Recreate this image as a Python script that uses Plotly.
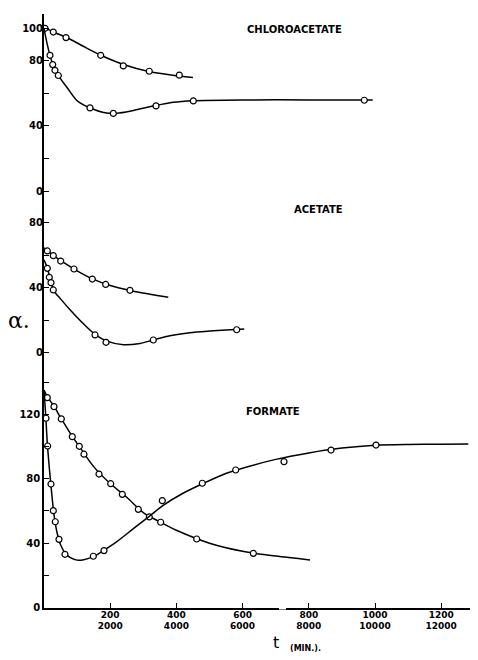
import plotly.graph_objects as go

# ---------------- data (t in minutes, alpha) ----------------
# Chloroacetate
chl_up_pts_t = [30, 281, 665, 1713, 2396, 3181, 4088]
chl_up_pts_a = [100, 97.7, 94.3, 83.4, 76.9, 73.6, 71.2]
chl_up_crv_t = [0, 300, 700, 1200, 1700, 2400, 3200, 4000, 4500]
chl_up_crv_a = [100.5, 97.6, 94.2, 88.8, 83.6, 77.8, 73.3, 70.9, 69.8]

chl_lo_pts_t = [181, 263, 332, 432, 1390, 2094, 3384, 4511, 9677]
chl_lo_pts_a = [83.4, 77.7, 74.2, 71.0, 51.1, 47.7, 52.3, 55.4, 55.8]
chl_lo_crv_t = [0, 100, 200, 300, 450, 700, 1000, 1400, 1800, 2200, 2700, 3300, 3900, 4500, 6000, 8000, 9930]
chl_lo_crv_a = [100, 90, 82, 76, 70.5, 63.5, 55.5, 51.0, 48.3, 47.8, 49.5, 52.2, 54.5, 55.5, 56, 56, 56]

# Acetate
ace_up_pts_t = [100, 281, 504, 906, 1460, 1863, 2598]
ace_up_pts_a = [62.5, 59.6, 56.3, 51.4, 45.2, 41.9, 38.3]
ace_up_crv_t = [0, 300, 600, 1000, 1500, 2000, 2600, 3200, 3755]
ace_up_crv_a = [64.5, 59.5, 55.3, 50.3, 45.0, 41.2, 38.2, 35.9, 34.0]

ace_lo_pts_t = [100, 160, 211, 281, 1541, 1873, 3302, 5821]
ace_lo_pts_a = [51.8, 46.3, 43.0, 38.5, 10.8, 6.3, 7.7, 14.0]
ace_lo_crv_t = [0, 100, 200, 300, 500, 800, 1200, 1550, 1900, 2400, 2900, 3300, 3800, 4400, 5000, 5500, 6050]
ace_lo_crv_a = [57, 52, 44, 38, 33, 26, 17.5, 11, 7, 4.8, 5.6, 7.7, 10.3, 12.2, 13.2, 13.8, 14.4]

# Formate
for_up_pts_t = [100, 302, 523, 855, 1067, 1208, 1662, 2015, 2366, 2849, 3181, 3525, 4613, 6324]
for_up_pts_a = [130.3, 124.7, 117.1, 106.1, 100.1, 95.2, 82.9, 76.9, 70.3, 61.0, 56.3, 53.0, 42.6, 33.7]
for_up_crv_t = [0, 100, 300, 500, 800, 1100, 1500, 2000, 2500, 3000, 3500, 4000, 5000, 6000, 7000, 8036]
for_up_crv_a = [135, 131, 125, 118, 108, 99, 87.5, 77, 68.5, 59, 53.2, 48, 40, 35, 32, 29.6]

for_lo_pts_t = [60, 110, 211, 281, 341, 453, 634, 1490, 1813, 3574, 4782, 5791, 7251, 8671, 10030]
for_lo_pts_a = [117.5, 100.3, 76.7, 60.2, 53.3, 42.4, 33.1, 31.9, 35.4, 66.4, 77.2, 85.4, 90.6, 97.8, 100.9]
for_lo_crv_t = [0, 50, 100, 200, 300, 400, 500, 650, 800, 1000, 1200, 1500, 1800, 2200, 2700, 3200, 3600,
                4200, 4800, 5400, 6000, 7000, 8000, 9000, 10000, 11000, 12000, 12820]
for_lo_crv_a = [135, 120, 102, 78, 58, 46, 39, 33.5, 31, 29.5, 29.8, 31.8, 35.5, 41, 49, 57, 63.5,
                71, 77, 82.5, 86.5, 92, 96, 99, 100.8, 101.3, 101.4, 101.5]

x_tick_vals = [2000, 4000, 6000, 8000, 10000, 12000]
x_tick_top = ["200", "400", "600", "800", "1000", "1200"]
x_tick_bot = ["2000", "4000", "6000", "8000", "10000", "12000"]

for_ticks = [0, 20, 40, 60, 80, 100, 120, 140]
for_labels = ["0", "", "40", "", "80", "", "120", ""]
ace_ticks = [0, 20, 40, 60, 80]
ace_labels = ["0", "", "40", "", "80"]
chl_ticks = [0, 20, 40, 60, 80, 100]
chl_labels = ["0", "", "40", "", "80", "100"]

panel_names = ["CHLOROACETATE", "ACETATE", "FORMATE"]

# ---------------- figure ----------------
OFF = 8  # page body margin
W, H = 478 - OFF, 660 - OFF
ML, MR, MT, MB = 44 - OFF, 0, 14 - OFF, 52
PW, PH = W - ML - MR, H - MT - MB
XMAX = PW / 0.0331


def px(xp):
    return (xp - OFF - ML) / PW


def py(yp):
    return (H - MB - (yp - OFF)) / PH


fig = go.Figure()

series = [
    (chl_up_crv_t, chl_up_crv_a, chl_up_pts_t, chl_up_pts_a, "y3"),
    (chl_lo_crv_t, chl_lo_crv_a, chl_lo_pts_t, chl_lo_pts_a, "y3"),
    (ace_up_crv_t, ace_up_crv_a, ace_up_pts_t, ace_up_pts_a, "y2"),
    (ace_lo_crv_t, ace_lo_crv_a, ace_lo_pts_t, ace_lo_pts_a, "y2"),
    (for_up_crv_t, for_up_crv_a, for_up_pts_t, for_up_pts_a, "y"),
    (for_lo_crv_t, for_lo_crv_a, for_lo_pts_t, for_lo_pts_a, "y"),
]
for ct, ca, pt, pa, ax in series:
    fig.add_trace(go.Scatter(x=ct, y=ca, mode="lines",
                             line=dict(shape="spline", smoothing=0.8, color="black", width=1.5),
                             yaxis=ax, showlegend=False, hoverinfo="skip"))
    fig.add_trace(go.Scatter(x=pt, y=pa, mode="markers",
                             marker=dict(symbol="circle", size=6, color="white",
                                         line=dict(width=1.2, color="black")),
                             yaxis=ax, showlegend=False))

# invisible helper trace so the second (lower-row) x axis is drawn
fig.add_trace(go.Scatter(x=[0, XMAX], y=[None, None], xaxis="x2", yaxis="y", mode="markers",
                         showlegend=False, hoverinfo="skip"))

TICKFONT = dict(family="DejaVu Sans", size=10, color="black", weight="bold")
XTICKFONT = dict(family="DejaVu Sans", size=9, color="black", weight="bold")

fig.update_layout(
    width=W, height=H,
    margin=dict(l=ML, r=MR, t=MT, b=MB, pad=0),
    paper_bgcolor="white", plot_bgcolor="white",
    xaxis=dict(range=[0, XMAX], tickvals=x_tick_vals, ticktext=x_tick_top,
               ticks="inside", ticklen=5, tickcolor="black", showline=True, linecolor="black",
               linewidth=1.5, showgrid=False, zeroline=False, tickfont=XTICKFONT,
               ticklabelstandoff=-3, automargin=False),
    xaxis2=dict(range=[0, XMAX], overlaying="x", side="bottom", anchor="y", tickvals=x_tick_vals,
                ticktext=x_tick_bot, ticks="", showline=False, showgrid=False, zeroline=False,
                tickfont=XTICKFONT, ticklabelstandoff=11, automargin=False),
    yaxis=dict(range=[-0.2, 368.3], tickvals=for_ticks, ticktext=for_labels, ticks="inside", ticklen=5,
               tickcolor="black", showline=True, linecolor="black", linewidth=1.5, showgrid=False,
               zeroline=False, tickfont=TICKFONT, automargin=False),
    yaxis2=dict(range=[-157.2, 208.3], overlaying="y", side="left", anchor="x", tickvals=ace_ticks,
                ticktext=ace_labels, ticks="inside", ticklen=5, tickcolor="black", showline=False,
                showgrid=False, zeroline=False, tickfont=TICKFONT, automargin=False),
    yaxis3=dict(range=[-256.3, 108.8], overlaying="y", side="left", anchor="x", tickvals=chl_ticks,
                ticktext=chl_labels, ticks="inside", ticklen=5, tickcolor="black", showline=False,
                showgrid=False, zeroline=False, tickfont=TICKFONT, automargin=False),
)

# small break in the time axis, as in the original drawing
fig.add_shape(type="line", xref="paper", yref="paper", x0=px(279), x1=px(286), y0=0, y1=0,
              line=dict(color="white", width=3), layer="above")

ANN = dict(family="DejaVu Sans", size=10, color="black", weight="bold")
anns = [
    (panel_names[0], px(294), py(29), ANN),
    (panel_names[1], px(318), py(209), ANN),
    (panel_names[2], px(273), py(412), ANN),
    ("α.", px(19), py(320), dict(family="DejaVu Serif", size=22, color="black")),
    ("t", px(276), py(643), dict(family="DejaVu Sans", size=16, color="black")),
    ("(MIN.).", px(305), py(648), dict(family="DejaVu Sans", size=8, color="black", weight="bold")),
]
for text, x, y, f in anns:
    fig.add_annotation(text=text, x=x, y=y, xref="paper", yref="paper", showarrow=False,
                       xanchor="center", yanchor="middle", font=f)

fig.write_html("out.html")
